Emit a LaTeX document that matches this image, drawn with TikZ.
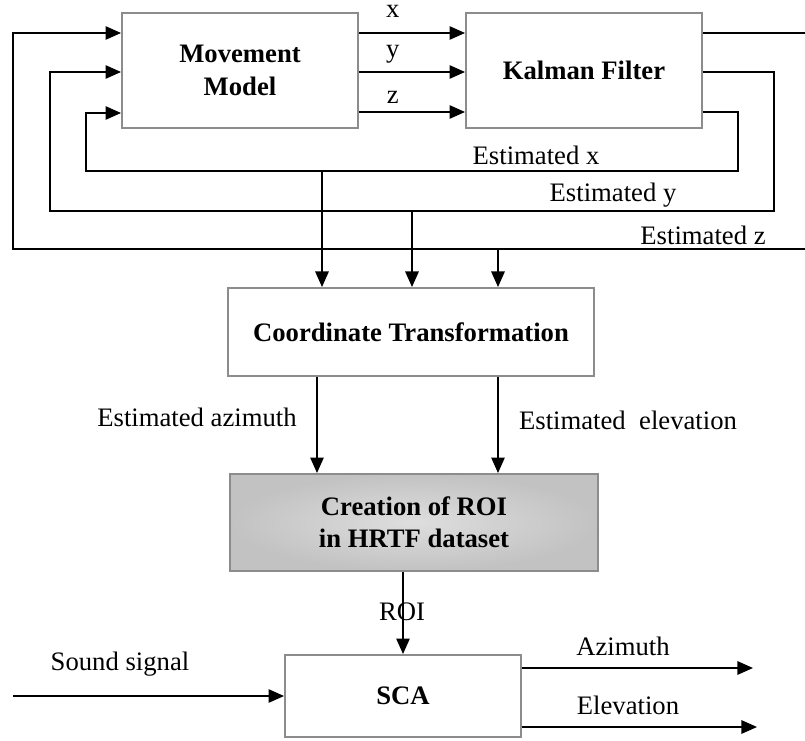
\documentclass[tikz,border=0pt]{standalone}
\usepackage{fontspec}
\setmainfont{Liberation Serif}
\usetikzlibrary{arrows.meta}
\definecolor{boxgray}{HTML}{8C8C8C}
\definecolor{roiout}{HTML}{C2C2C2}
\definecolor{roiin}{HTML}{DEDEDE}
\begin{document}
\begin{tikzpicture}[x=0.45pt, y=-0.45pt, font=\fontsize{12}{14.5}\selectfont, line join=miter, line width=0.85pt,
		>={Triangle[length=7pt,width=6pt]},
		block/.style={draw=boxgray, fill=white, inner sep=0pt, align=center, font=\fontsize{12}{14.5}\selectfont\bfseries},
		lbl/.style={inner sep=1pt}]
	\useasboundingbox (0,0) rectangle (805,740);
	% blocks
	\node[block, minimum width=106.2pt, minimum height=51.75pt] (move) at (240,70.5) {Movement\\Model};
	\node[block, minimum width=106.2pt, minimum height=51.75pt] (kal) at (584,70.5) {Kalman Filter};
	\node[block, minimum width=164.7pt, minimum height=39.6pt] (coord) at (411,332) {Coordinate Transformation};
	\node[block, draw=boxgray, shading=radial, inner color=roiin, outer color=roiout, minimum width=165.6pt, minimum height=43.65pt] (roi) at (414,522.5) {Creation of ROI\\in HRTF dataset};
	\node[block, minimum width=106.2pt, minimum height=36.9pt] (sca) at (403,696) {SCA};
	% free ends and junctions
	\coordinate (edgeT) at (805,33);
	\coordinate (edgeB) at (805,249);
	\coordinate (jx) at (322,171);
	\coordinate (jy) at (412,211);
	\coordinate (jz) at (498,249);
	\coordinate (src) at (13,696);
	\coordinate (azout) at (753,668);
	\coordinate (elout) at (757,727);
	% model -> filter
	\draw[->] (move.east |- 0,33) -- node[lbl, anchor=base, pos=0.32, yshift=6.75pt] (lblx) {x} (kal.west |- 0,33);
	\draw[->] (move.east |- 0,72) -- node[lbl, anchor=base, pos=0.32, yshift=6.3pt] (lbly) {y} (kal.west |- 0,72);
	\draw[->] (move.east |- 0,112) -- node[lbl, anchor=base, pos=0.32, yshift=3.8pt] (lblz) {z} (kal.west |- 0,112);
	% feedback loops
	\draw[->] (kal.east |- 0,112) -| (738,171) -| (86,113) -- (move.west |- 0,113);
	\draw[->] (kal.east |- 0,72) -| (774,211) -| (50,72) -- (move.west |- 0,72);
	\draw (kal.east |- 0,33) -- (edgeT);
	\draw[->] (edgeB) -| (13,33) -- (move.west |- 0,33);
	\node[lbl] (estx) at (536,155) {Estimated x};
	\node[lbl] (esty) at (613,195) {Estimated y};
	\node[lbl] (estz) at (703,235) {Estimated z};
	% into the transformation
	\draw[->] (jx) -- (coord.north -| jx);
	\draw[->] (jy) -- (coord.north -| jy);
	\draw[->] (jz) -- (coord.north -| jz);
	% transformation -> ROI
	\draw[->] (coord.south -| 317,0) -- (roi.north -| 317,0);
	\draw[->] (coord.south -| 498,0) -- (roi.north -| 498,0);
	\node[lbl] (estaz) at (197,417) {Estimated azimuth};
	\node[lbl] (estel) at (628,420) {Estimated\ \ elevation};
	% ROI -> SCA
	\draw[->] (roi.south -| 403,0) -- (sca.north -| 403,0);
	\node[lbl] (roilbl) at (402,612) {ROI};
	% SCA in and out
	\draw[->] (src) -- (sca.west |- src);
	\node[lbl] (sound) at (120,664) {Sound signal};
	\draw[->] (sca.east |- azout) -- (azout);
	\draw[->] (sca.east |- elout) -- (elout);
	\node[lbl] (azlbl) at (623,646) {Azimuth};
	\node[lbl] (ellbl) at (628,705) {Elevation};
\end{tikzpicture}
\end{document}
